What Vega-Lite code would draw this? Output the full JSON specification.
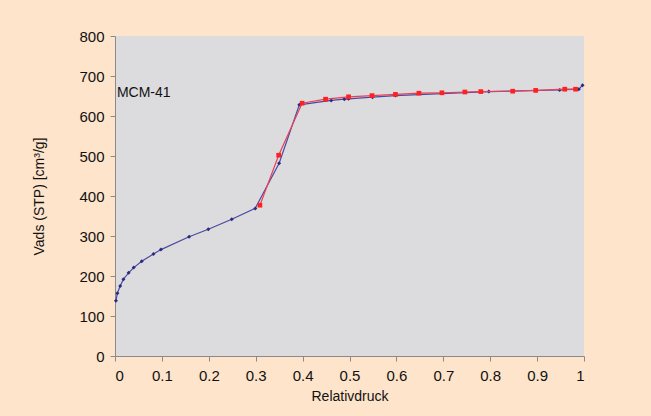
{
  "$schema": "https://vega.github.io/schema/vega-lite/v6.json",
  "width": 469,
  "height": 320,
  "autosize": {"type": "none"},
  "padding": {"left": 115, "top": 36, "right": 67, "bottom": 60},
  "background": "#fde4ca",
  "config": {
    "view": {"fill": "#dcdcdf", "stroke": null},
    "font": "Liberation Sans",
    "axis": {
      "grid": false,
      "domainColor": "#8a8a8a",
      "tickColor": "#8a8a8a",
      "tickSize": 5,
      "labelColor": "#111111",
      "titleColor": "#111111",
      "labelFont": "Liberation Sans",
      "titleFont": "Liberation Sans",
      "labelFontSize": 15,
      "titleFontSize": 14,
      "titleFontWeight": "normal"
    }
  },
  "datasets": {
    "ads": [
      {"p": 0.002, "v": 138},
      {"p": 0.005, "v": 157},
      {"p": 0.011, "v": 175},
      {"p": 0.018, "v": 192},
      {"p": 0.029, "v": 208},
      {"p": 0.040, "v": 221},
      {"p": 0.057, "v": 237},
      {"p": 0.082, "v": 255},
      {"p": 0.098, "v": 266},
      {"p": 0.158, "v": 298},
      {"p": 0.199, "v": 317},
      {"p": 0.249, "v": 342},
      {"p": 0.299, "v": 369},
      {"p": 0.350, "v": 482},
      {"p": 0.393, "v": 628},
      {"p": 0.461, "v": 639},
      {"p": 0.489, "v": 642},
      {"p": 0.498, "v": 643},
      {"p": 0.549, "v": 647},
      {"p": 0.598, "v": 651},
      {"p": 0.797, "v": 661},
      {"p": 0.948, "v": 665},
      {"p": 0.989, "v": 667},
      {"p": 0.997, "v": 677}
    ],
    "des": [
      {"p": 0.982, "v": 667},
      {"p": 0.959, "v": 667},
      {"p": 0.897, "v": 664},
      {"p": 0.848, "v": 662},
      {"p": 0.780, "v": 661},
      {"p": 0.746, "v": 660},
      {"p": 0.697, "v": 658},
      {"p": 0.648, "v": 657},
      {"p": 0.598, "v": 654},
      {"p": 0.548, "v": 651},
      {"p": 0.498, "v": 648},
      {"p": 0.449, "v": 642},
      {"p": 0.399, "v": 632},
      {"p": 0.349, "v": 502},
      {"p": 0.309, "v": 377}
    ],
    "label": [{"p": 0.004, "v": 657, "t": "MCM-41"}]
  },
  "encoding": {
    "x": {
      "field": "p", "type": "quantitative",
      "scale": {"domain": [0, 1], "nice": false},
      "axis": {"values": [0, 0.1, 0.2, 0.3, 0.4, 0.5, 0.6, 0.7, 0.8, 0.9, 1], "format": "~g", "title": "Relativdruck", "labelPadding": 7, "titlePadding": 6}
    },
    "y": {
      "field": "v", "type": "quantitative",
      "scale": {"domain": [0, 800], "nice": false},
      "axis": {"values": [0, 100, 200, 300, 400, 500, 600, 700, 800], "title": "Vads (STP) [cm³/g]", "labelPadding": 6, "titlePadding": 32}
    }
  },
  "layer": [
    {
      "data": {"name": "ads"},
      "mark": {"type": "line", "color": "#4a4aa0", "strokeWidth": 1.2},
      "encoding": {"order": {"field": "p", "type": "quantitative"}}
    },
    {
      "data": {"name": "ads"},
      "mark": {"type": "point", "shape": "diamond", "filled": true, "color": "#2a2a80", "size": 16, "opacity": 1}
    },
    {
      "data": {"name": "des"},
      "mark": {"type": "line", "color": "#e8405a", "strokeWidth": 1.2},
      "encoding": {"order": {"field": "p", "type": "quantitative", "sort": "descending"}}
    },
    {
      "data": {"name": "des"},
      "mark": {"type": "point", "shape": "square", "filled": true, "color": "#ff2020", "size": 22, "opacity": 1}
    },
    {
      "data": {"name": "label"},
      "mark": {"type": "text", "align": "left", "baseline": "middle", "fontSize": 14, "color": "#111111", "font": "Liberation Sans"},
      "encoding": {"text": {"field": "t"}}
    }
  ]
}
